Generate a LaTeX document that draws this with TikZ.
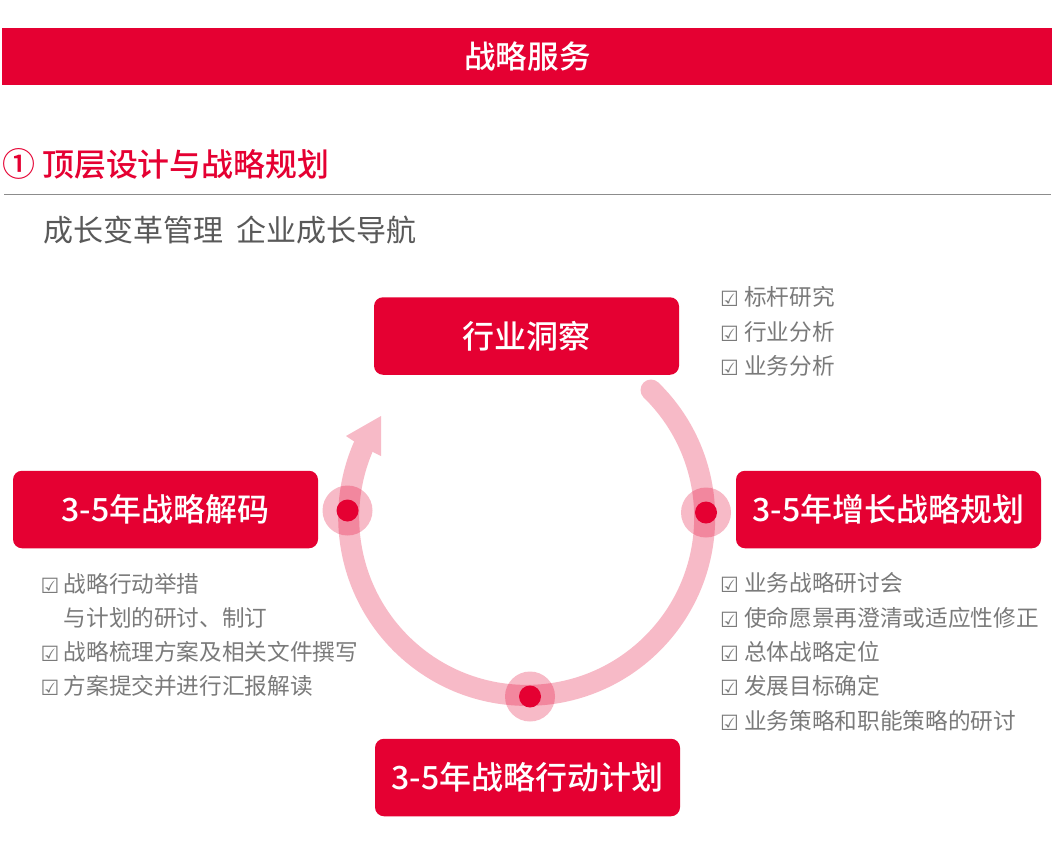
\documentclass[tikz,border=0pt]{standalone}
\usepackage{fontspec}
\setmainfont{Noto Sans CJK SC}
\newfontfamily\medf{Noto Sans CJK SC Medium}
\newfontfamily\symf{DejaVu Sans}
\definecolor{brand}{HTML}{E50032}
\definecolor{listgray}{HTML}{7A7A7A}
\definecolor{subgray}{HTML}{595959}
\newcommand{\chk}{{\symf\fontsize{21}{21}\selectfont ☑}}
\tikzset{
  x=1pt,y=-1pt,
  bar/.style={fill=brand,draw=none},
  stagebox/.style={fill=brand,draw=none,rounded corners=9pt,minimum width=305pt,minimum height=77.5pt,inner sep=0pt,text=white,font=\medf\fontsize{32}{33}\selectfont},
  litem/.style={anchor=west,inner sep=0pt,text=listgray,font=\fontsize{22.65}{24}\selectfont},
  ckbox/.style={anchor=center,inner sep=0pt,text=listgray},
  halo/.style={fill=brand,opacity=.27,draw=none},
  core/.style={fill=brand,draw=none}
}
\begin{document}
\begin{tikzpicture}
\useasboundingbox (0,0) rectangle (1056,857);
\fill[white] (0,0) rectangle (1056,857);
\fill[bar] (2,28) rectangle (1052,85);
\node[text=white,font=\medf\fontsize{31.6}{32}\selectfont,inner sep=0pt] (title) at (527.5,56.5) {战略服务};
\node[anchor=center,text=brand,font=\medf\fontsize{33}{34}\selectfont,inner sep=0pt] (num) at (18.5,163.5) {①};
\node[anchor=west,text=brand,font=\medf\fontsize{31.9}{34}\selectfont,inner sep=0pt] (head) at (42,164) {顶层设计与战略规划};
\coordinate (ruleL) at (4,194); \coordinate (ruleR) at (1051,194);
\draw[color=black!45,line width=1pt] (ruleL) -- (ruleR);
\node[anchor=west,text=subgray,font=\fontsize{30}{32}\selectfont,inner sep=0pt] (sub) at (43,230) {成长变革管理\hspace{13.5pt}企业成长导航};

% loop
\begin{scope}[opacity=.27,transparency group]
\fill[brand] (651,390) circle[radius=10.5];
\draw[draw=brand,line width=21pt]
  (651,390) arc[start angle=45.7,end angle=-205,x radius=178,y radius=-178];
\fill[brand] (381,416) -- (346,436) -- (355,442) -- (373,452) -- (381,456) -- cycle;
\end{scope}
\foreach \n/\x/\y in {d1/347.5/510.5,d2/706/512.5,d3/530/696.5}{
  \fill[halo] (\x,\y) circle[radius=25];
  \node[core,circle,minimum size=22pt,inner sep=0pt] (\n) at (\x,\y) {};
}

\node[stagebox] (top) at (526.5,336) {行业洞察};
\node[stagebox] (left) at (165.5,509.5) {3-5年战略解码};
\node[stagebox] (right) at (888.5,509.5) {3-5年增长战略规划};
\node[stagebox] (bottom) at (527.5,777.5) {3-5年战略行动计划};

\foreach \n/\y/\t in {a/297/标杆研究,b/332/行业分析,c/366/业务分析,
  e/583/业务战略研讨会,f/618/使命愿景再澄清或适应性修正,g/652/总体战略定位,h/686/发展目标确定,i/721/业务策略和职能策略的研讨}{
  \node[ckbox] (k\n) at (729.5,\y+2) {\chk};
  \node[litem] (t\n) at (744,\y) {\t};
}
\foreach \n/\y/\t in {p/584/战略行动举措,r/652/战略梳理方案及相关文件撰写,s/686/方案提交并进行汇报解读}{
  \node[ckbox] (k\n) at (50,\y+2) {\chk};
  \node[litem] (t\n) at (63.5,\y) {\t};
}
\node[litem] (tq) at (63.5,618) {与计划的研讨、制订};
\end{tikzpicture}
\end{document}
